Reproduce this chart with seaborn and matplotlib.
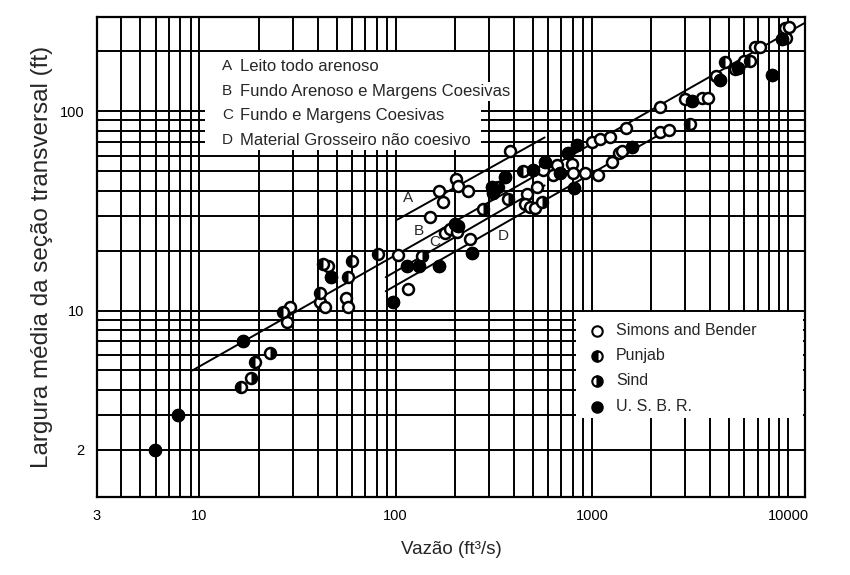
import matplotlib
matplotlib.use("Agg")
import matplotlib.pyplot as plt
from matplotlib.markers import MarkerStyle
from matplotlib.patches import Rectangle
import numpy as np
import pandas as pd
import seaborn as sns

# ---------------- data ----------------
simons_q = [28.8, 27.8, 45, 41, 43.5, 56, 57, 103, 116, 149, 166, 174, 202, 207, 233,
            178, 189, 205, 239, 382, 562, 524, 466, 455, 483, 512, 662, 632, 791, 800,
            920, 1074, 1000, 1099, 1236, 1265, 1374, 1423, 1490, 2223, 2471, 2223, 2979,
            3639, 3908, 4295, 5370, 5970, 6790, 7200, 9770, 9660, 10100]
simons_w = [10.4, 8.8, 16.8, 11.0, 10.4, 11.5, 10.4, 19.1, 12.8, 29.6, 39.6, 34.9, 46, 42, 40,
            24.4, 25.8, 24.9, 22.8, 63, 51, 41.5, 38.3, 34.1, 33, 32.6, 53.6, 48.2, 54.2, 49.3,
            49.3, 48.2, 70, 73, 74, 55.5, 62, 63, 83, 79, 81, 105, 116,
            117, 117, 150, 164, 180, 210, 210, 233, 261, 264]

punjab_q = [16.2, 19.1, 26.8, 42.5, 60, 57, 41, 81, 445, 3162, 4775, 6400]
punjab_w = [4.15, 5.5, 9.8, 17.2, 17.8, 14.7, 12.2, 19.3, 50, 86, 176, 180]

sind_q = [18.4, 22.8, 137, 278, 331, 373, 556]
sind_w = [4.6, 6.15, 18.7, 32.2, 41.5, 36.5, 34.9]

usbr_q = [5.9, 7.8, 16.6, 47, 114, 131, 166, 97, 200, 207, 244, 309, 313, 360, 500, 576,
          687, 755, 838, 809, 1600, 3236, 4500, 5560, 8280, 9310]
usbr_w = [2.0, 3.0, 7.0, 14.7, 16.8, 16.8, 16.8, 11.0, 27.1, 26.7, 19.5, 41.5, 38.7, 46.6, 50.5, 55.5,
          48.8, 61.5, 68, 41, 66, 113, 143, 166, 153, 230]

# fitted lines (end points)
line_names = ["A", "A", "B", "B", "C", "C", "D", "D"]
line_q = [102, 575, 9.2, 12080, 89, 575, 89, 2560]
line_w = [28.6, 74, 5.0, 277, 14.7, 42.5, 12.5, 83]

series_labels = ["Simons and Bender", "Punjab", "Sind", "U. S. B. R."]
class_labels = [("A", "Leito todo arenoso"),
                ("B", "Fundo Arenoso e Margens Coesivas"),
                ("C", "Fundo e Margens Coesivas"),
                ("D", "Material Grosseiro não coesivo")]

x_ticks = [3, 10, 100, 1000, 10000]
y_ticks = [2, 10, 100]

# ---------------- figure ----------------
sns.set_style("white")
REG = ["Liberation Sans", "DejaVu Sans"]
plt.rcParams["font.family"] = REG

fig = plt.figure(figsize=(8.5, 5.75), dpi=100)
ax = fig.add_axes([0.114, 0.136, 0.833, 0.834])
ax.set_xscale("log")
ax.set_yscale("log")

df_all = pd.DataFrame({
    "q": simons_q + punjab_q + sind_q + usbr_q,
    "w": simons_w + punjab_w + sind_w + usbr_w,
})
df_p = pd.DataFrame({"q": punjab_q, "w": punjab_w})
df_s = pd.DataFrame({"q": sind_q, "w": sind_w})
df_u = pd.DataFrame({"q": usbr_q, "w": usbr_w})
df_lines = pd.DataFrame({"name": line_names, "q": line_q, "w": line_w})

MS = 62
# fitted lines
sns.lineplot(data=df_lines, x="q", y="w", units="name", estimator=None, sort=False,
             color="black", lw=1.4, ax=ax, zorder=2, legend=False)
# all points as open circles
sns.scatterplot(data=df_all, x="q", y="w", marker="o", s=MS, facecolor="white",
                edgecolor="black", linewidth=1.8, ax=ax, zorder=3, legend=False)
# half-filled overlays
sns.scatterplot(data=df_p, x="q", y="w", marker=MarkerStyle("o", fillstyle="left"),
                s=MS, color="black", linewidth=0, ax=ax, zorder=4, legend=False)
sns.scatterplot(data=df_s, x="q", y="w", marker=MarkerStyle("o", fillstyle="right"),
                s=MS, color="black", linewidth=0, ax=ax, zorder=4, legend=False)
sns.scatterplot(data=df_u, x="q", y="w", marker="o", s=MS, color="black",
                edgecolor="black", linewidth=1.8, ax=ax, zorder=4, legend=False)

ax.set_xlim(3, 12200)
ax.set_ylim(1.16, 297)

# log-paper grid
ax.set_xticks(x_ticks)
ax.set_xticklabels([str(t) for t in x_ticks])
xminor = [m * 10 ** e for e in range(0, 5) for m in range(2, 10)]
ax.set_xticks([v for v in xminor if 3 < v < 12200 and v not in x_ticks], minor=True)
ax.set_yticks(y_ticks)
ax.set_yticklabels([str(t) for t in y_ticks])
yminor = [m * 10 ** e for e in range(0, 3) for m in range(2, 10)]
ax.set_yticks([v for v in yminor if 1.16 < v < 297 and v not in y_ticks], minor=True)
ax.grid(which="both", color="black", lw=1.4)
ax.set_axisbelow(True)
ax.tick_params(which="major", direction="out", length=4, width=1.3, labelsize=10.5, pad=5, colors="black")
ax.tick_params(which="minor", length=0)
for sp in ax.spines.values():
    sp.set_color("black")
    sp.set_linewidth(1.6)

ax.set_xlabel("Vazão (ft³/s)", fontsize=13.5, labelpad=13)
ax.set_ylabel("Largura média da seção transversal (ft)", fontsize=17.5, labelpad=5)

# top-left classification box
ax.add_patch(Rectangle((0.1525, 0.723), 0.39, 0.204, transform=ax.transAxes,
                       facecolor="white", edgecolor="none", zorder=1.5))
ys = [0.898, 0.846, 0.796, 0.744]
for (letter, txt), yy in zip(class_labels, ys):
    ax.text(0.1766, yy, letter, transform=ax.transAxes, fontsize=11, va="center",
            ha="left", zorder=5)
    ax.text(0.202, yy, txt, transform=ax.transAxes, fontsize=12, va="center", ha="left",
            zorder=5, bbox=dict(facecolor="white", edgecolor="none", pad=1.5))

# line labels
for lab, (qx, wy) in zip(["A", "B", "C", "D"], [(115, 36.6), (132, 25.2), (158, 22.2), (352, 23.8)]):
    ax.text(qx, wy, lab, fontsize=11, ha="center", va="center", zorder=5)

# bottom-right series legend
ax.add_patch(Rectangle((0.676, 0.165), 0.321, 0.22, transform=ax.transAxes,
                       facecolor="white", edgecolor="none", zorder=6))
leg_y = [0.346, 0.294, 0.242, 0.1875]
fills = ["none", "left", "right", "full"]
for lab, yy, fs in zip(series_labels, leg_y, fills):
    if fs == "none":
        ax.plot([0.706], [yy], "o", transform=ax.transAxes, ms=7.5, mfc="white",
                mec="black", mew=1.5, zorder=7)
    else:
        ax.plot([0.706], [yy], "o", transform=ax.transAxes, ms=7.5, fillstyle=fs,
                mfc="black", mfcalt="white", mec="black", mew=1.5, zorder=7)
    ax.text(0.733, yy, lab, transform=ax.transAxes, fontsize=11.5,
            va="center", ha="left", zorder=7)

fig.savefig("out.png", dpi=100, facecolor="white")
